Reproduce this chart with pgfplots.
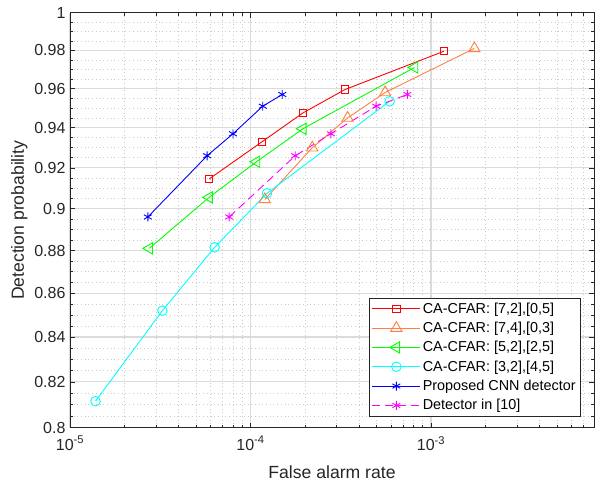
\documentclass[border=0pt]{standalone}
\usepackage{pgfplots}
\pgfplotsset{compat=1.18}
\usepackage{fontspec}
\setmainfont{Liberation Sans}
\definecolor{axgray}{rgb}{0.15,0.15,0.15}
\definecolor{morange}{RGB}{255,128,64}
\definecolor{mgreen}{RGB}{0,255,0}
\definecolor{mcyan}{RGB}{0,255,255}
\definecolor{mblue}{RGB}{0,0,255}
\definecolor{mmag}{RGB}{255,0,255}
\definecolor{mred}{RGB}{255,0,0}
\begin{document}
\begin{tikzpicture}
\begin{axis}[
  at={(0,0)}, anchor=south west,
  scale only axis, width=524pt, height=415pt,
  xmode=log, ymode=log,
  xmin=1e-5, xmax=8e-3, ymin=0.8, ymax=1,
  xtick={1e-5,1e-4,1e-3},
  xticklabels={{10\textsuperscript{-5}},{10\textsuperscript{-4}},{10\textsuperscript{-3}}},
  minor xtick={2e-5,3e-5,4e-5,5e-5,6e-5,7e-5,8e-5,9e-5,2e-4,3e-4,4e-4,5e-4,6e-4,7e-4,8e-4,9e-4,2e-3,3e-3,4e-3,5e-3,6e-3,7e-3},
  ytick={0.8,0.82,0.84,0.86,0.88,0.9,0.92,0.94,0.96,0.98,1},
  yticklabels={0.8,0.82,0.84,0.86,0.88,0.9,0.92,0.94,0.96,0.98,1},
  minor ytick={0.805,0.81,0.815,0.825,0.83,0.835,0.845,0.85,0.855,0.865,0.87,0.875,0.885,0.89,0.895,0.905,0.91,0.915,0.925,0.93,0.935,0.945,0.95,0.955,0.965,0.97,0.975,0.985,0.99,0.995},
  grid=both,
  major grid style={gray!28, line width=1.2pt},
  minor grid style={gray!40, line width=0.6pt, dash pattern=on 0.7pt off 3pt},
  tick align=inside,
  major tick length=5pt, minor tick length=3pt,
  tick style={axgray, line width=0.6pt},
  axis line style={axgray, line width=0.7pt},
  ticklabel style={font=\fontsize{16}{19}\selectfont, text=axgray},
  xticklabel style={yshift=-5pt},
  yticklabel style={xshift=-1pt},
  xlabel={False alarm rate},
  ylabel={Detection probability},
  label style={font=\fontsize{17.6}{20}\selectfont, text=axgray},
  xlabel style={at={([yshift=-50.6pt]axis description cs:0.5,0)}, anchor=base},
  ylabel style={at={([xshift=-46pt]axis description cs:0,0.5)}, anchor=base, rotate=0},
  legend cell align=left,
  legend style={at={(1,0)}, anchor=south east, xshift=-13pt, yshift=11pt,
    font=\fontsize{14.4}{17}\selectfont, draw=axgray, line width=0.6pt,
    row sep=3.4pt, inner sep=3pt},
  legend image code/.code={\draw[mark repeat=2,mark phase=2] plot coordinates {(0pt,0pt) (24pt,0pt) (48pt,0pt)};},
  every axis plot/.append style={line width=0.9pt},
]
\addplot[mred, mark=square, mark size=3.7pt, mark options={solid}] coordinates {
(5.9e-5,0.9145) (1.16e-4,0.933) (1.95e-4,0.9475) (3.33e-4,0.9595) (1.18e-3,0.9795)};
\addlegendentry{CA-CFAR: [7,2],[0,5]}
\addplot[morange, mark=triangle, mark size=6.5pt, mark options={solid}] coordinates {
(1.2e-4,0.9045) (2.2e-4,0.930) (3.45e-4,0.945) (5.57e-4,0.958) (1.74e-3,0.981)};
\addlegendentry{CA-CFAR: [7,4],[0,3]}
\addplot[mgreen, mark=triangle, mark size=6.5pt, mark options={solid, rotate=90}] coordinates {
(2.75e-5,0.881) (5.9e-5,0.9055) (1.08e-4,0.923) (1.95e-4,0.9395) (8.1e-4,0.971)};
\addlegendentry{CA-CFAR: [5,2],[2,5]}
\addplot[mcyan, mark=o, mark size=4.8pt, mark options={solid}] coordinates {
(1.385e-5,0.8115) (3.25e-5,0.852) (6.33e-5,0.8815) (1.235e-4,0.9075) (5.9e-4,0.9535)};
\addlegendentry{CA-CFAR: [3,2],[4,5]}
\addplot[mblue, mark=asterisk, mark size=4.5pt, mark options={solid}] coordinates {
(2.7e-5,0.896) (5.75e-5,0.926) (8.0e-5,0.937) (1.17e-4,0.951) (1.5e-4,0.957)};
\addlegendentry{Proposed CNN detector}
\addplot[mmag, dash pattern=on 8pt off 5pt, mark=asterisk, mark size=4.5pt, mark options={solid}] coordinates {
(7.62e-5,0.896) (1.77e-4,0.926) (2.79e-4,0.937) (4.97e-4,0.951) (7.4e-4,0.957)};
\addlegendentry{Detector in [10]}
\end{axis}
\pgfresetboundingbox
\path[use as bounding box] (-70pt,-55.3pt) rectangle (525pt,427.7pt);
\end{tikzpicture}
\end{document}
